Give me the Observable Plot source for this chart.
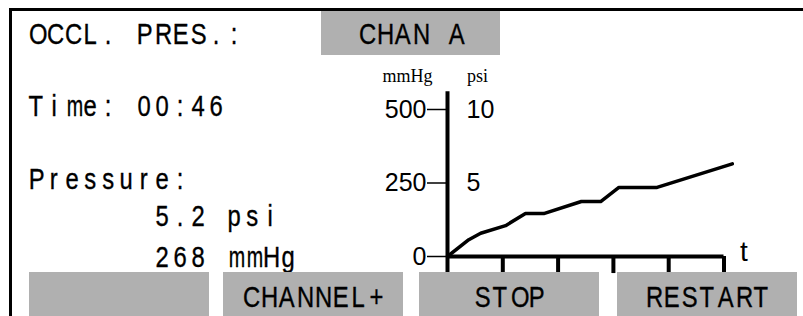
<!DOCTYPE html>
<html><head><meta charset="utf-8">
<script src="https://cdn.jsdelivr.net/npm/d3@7"></script>
<script src="https://cdn.jsdelivr.net/npm/@observablehq/plot@0.6"></script>
<style>
html,body{margin:0;padding:0;background:#fff;}
#wrap{position:relative;width:803px;height:316px;overflow:hidden;}
#wrap svg{position:absolute;left:0;top:0;}
.frame{position:absolute;left:9px;top:8px;width:820px;height:340px;border-left:3px solid #000;border-top:3px solid #000;}
.lcd{position:absolute;font-family:"Liberation Sans",Arial,sans-serif;font-size:29px;line-height:30px;height:30px;white-space:pre;color:#000;-webkit-text-stroke:0.35px #000;}
.lcd span{display:inline-block;width:18px;text-align:center;}
.lcd span i{display:inline-block;font-style:normal;transform:scaleX(0.82);}
.lcd span i.w{transform:scaleX(0.68);}
.box{position:absolute;background:#b0b0b0;}
</style></head>
<body><div id="wrap"></div>
<script>
// ---- data ----
const timeSec      = [0, 3.85, 6.0, 10.5, 14.1, 17.4, 24.2, 27.7, 31.0, 37.9, 51.5];
const pressureMmHg = [0, 57,   79,  105,  146,  146,  187,  187,  235,  235,  315];
const xTicks   = [0, 10, 20, 30, 40, 50];
const mmHgTicks = [0, 250, 500];
const psiTicks  = [5, 10];
const unitLabels = ["mmHg", "psi"];
const axisTLabel = "t";
const headerText = "OCCL. PRES.:";
const channelText = "CHAN A";
const infoLines = ["Time: 00:46", "Pressure:", "       5.2 psi", "       268 mmHg"];
const buttonLabels = ["", "CHANNEL+", "STOP", "RESTART"];

const points = timeSec.map((t, i) => ({t, p: pressureMmHg[i]}));

const chart = Plot.plot({
  width: 803, height: 316,
  marginLeft: 447, marginRight: 79.5, marginTop: 109, marginBottom: 60,
  x: {domain: [0, 50], axis: null},
  y: {domain: [0, 500], axis: null},
  style: {fontFamily: "'Liberation Sans', Arial, sans-serif", fontSize: "25px", background: "transparent", overflow: "visible"},
  marks: [
    Plot.ruleX(xTicks, {y1: 0, y2: -58, stroke: "#000", strokeWidth: 4}),
    Plot.ruleX([0], {y1: 0, y2: 560, stroke: "#000", strokeWidth: 4}),
    Plot.ruleY([0], {x1: 0, x2: 50, stroke: "#000", strokeWidth: 4}),
    Plot.axisY({ticks: mmHgTicks, anchor: "left", tickSize: 20, tickPadding: 1, strokeWidth: 1.5, fontSize: 25, label: null, tickFormat: d => String(d)}),
    Plot.text(psiTicks, {x: () => 0, y: d => d * 50, text: d => String(d), textAnchor: "start", dx: 19, fontSize: 25}),
    Plot.text([unitLabels[0]], {x: () => 0, y: () => 500, text: d => d, dx: -40, dy: -33, fontFamily: "'Liberation Serif', serif", fontSize: 18}),
    Plot.text([unitLabels[1]], {x: () => 0, y: () => 500, text: d => d, dx: 30, dy: -33, fontFamily: "'Liberation Serif', serif", fontSize: 18}),
    Plot.text([axisTLabel], {x: () => 50, y: () => 0, text: d => d, textAnchor: "start", dx: 16, dy: -4, fontSize: 28}),
    Plot.line(points, {x: "t", y: "p", stroke: "#000", strokeWidth: 3.5})
  ]
});

const wrap = document.getElementById("wrap");
wrap.appendChild(chart);

function mono(str) {
  return [...str].map(c => `<span><i${/[mMwW]/.test(c) ? ' class="w"' : ""}>${c === " " ? "&nbsp;" : c}</i></span>`).join("");
}
function addText(str, left, top, width) {
  const d = document.createElement("div");
  d.className = "lcd";
  d.style.left = left + "px"; d.style.top = top + "px";
  if (width != null) { d.style.width = width + "px"; d.style.textAlign = "center"; }
  d.innerHTML = mono(str);
  wrap.appendChild(d);
}
function addBox(left, top, w, h) {
  const b = document.createElement("div");
  b.className = "box";
  Object.assign(b.style, {left: left + "px", top: top + "px", width: w + "px", height: h + "px"});
  wrap.appendChild(b);
}

// header
addText(headerText, 27, 19);
addBox(321, 11, 179, 44);
addText(channelText, 321, 19, 179);
// info lines
const infoTops = [91, 164, 201, 242];
infoLines.forEach((s, i) => addText(s, 27, infoTops[i]));
// buttons
const btnLefts = [29, 223, 419, 617];
buttonLabels.forEach((s, i) => { addBox(btnLefts[i], 272, 180, 50); if (s) addText(s, btnLefts[i], 282, 180); });
// frame
const fr = document.createElement("div"); fr.className = "frame"; wrap.appendChild(fr);
</script>
</body></html>
